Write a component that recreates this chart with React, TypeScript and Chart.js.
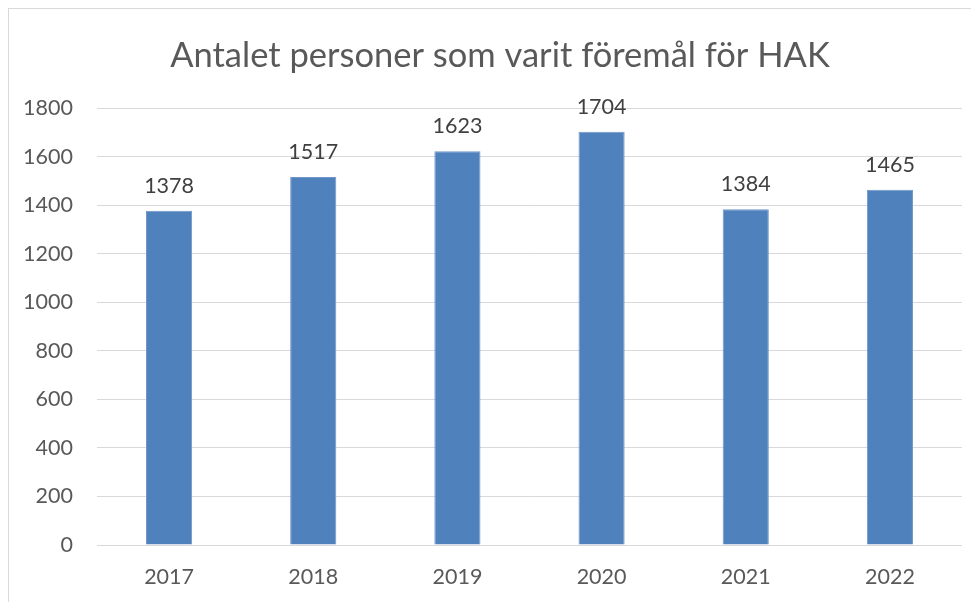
import React, { useEffect, useRef } from "react";
import { Chart, registerables } from "chart.js";

Chart.register(...registerables);

const TITLE = "Antalet personer som varit föremål för HAK";
const years = ["2017", "2018", "2019", "2020", "2021", "2022"];
const persons = [1378, 1517, 1623, 1704, 1384, 1465];

const FONT = "Lato, 'Noto Sans', sans-serif";
const TICK_SIZE = 21.5;

const valueLabels = {
  id: "valueLabels",
  afterDatasetsDraw(chart: any) {
    const ctx = chart.ctx;
    const meta = chart.getDatasetMeta(0);
    const data = chart.data.datasets[0].data as number[];
    ctx.save();
    ctx.font = `${TICK_SIZE}px ${FONT}`;
    ctx.fillStyle = "#404040";
    ctx.textAlign = "center";
    ctx.textBaseline = "middle";
    meta.data.forEach((bar: any, i: number) => {
      ctx.fillText(String(data[i]), bar.x, bar.y - 25);
    });
    ctx.restore();
  },
};

// The original chart is wider than the visible crop; its title is centred on that wider box.
const titleShift = {
  id: "titleShift",
  afterLayout(chart: any) {
    if (chart.titleBlock) {
      chart.titleBlock.right += 29;
    }
  },
};

export default function App() {
  const ref = useRef<HTMLCanvasElement>(null);
  useEffect(() => {
    if (!ref.current) return;
    const chart = new Chart(ref.current, {
      type: "bar",
      data: {
        labels: years,
        datasets: [
          {
            data: persons,
            backgroundColor: "#4F81BD",
            borderColor: "#6E96C8",
            borderWidth: 1,
            categoryPercentage: 1,
            barPercentage: 0.32,
          },
        ],
      },
      options: {
        responsive: false,
        animation: false,
        devicePixelRatio: 1,
        layout: { padding: { left: 0, right: 17, top: 0, bottom: 0 } },
        plugins: {
          legend: { display: false },
          tooltip: { enabled: false },
          title: {
            display: true,
            text: TITLE,
            color: "#595959",
            font: { family: FONT, size: 34.5, weight: "normal", lineHeight: 1.2 },
            padding: { top: 26, bottom: 32 },
          },
        },
        scales: {
          x: {
            grid: { display: false, drawTicks: false },
            border: { display: false },
            ticks: {
              color: "#595959",
              font: { family: FONT, size: TICK_SIZE, lineHeight: 1.2 },
              padding: 19,
              maxRotation: 0,
            },
            afterFit(scale: any) {
              scale.height = 57;
            },
          },
          y: {
            min: 0,
            max: 1800,
            ticks: {
              stepSize: 200,
              color: "#595959",
              font: { family: FONT, size: TICK_SIZE, lineHeight: 1.2 },
              padding: 24,
              callback: (v: any) => String(v),
            },
            grid: { color: "#D9D9D9", lineWidth: 1, drawTicks: false },
            border: { display: false },
            afterFit(scale: any) {
              scale.width = 88;
            },
          },
        },
      },
      plugins: [valueLabels, titleShift],
    });
    return () => chart.destroy();
  }, []);
  return (
    <div
      style={{
        border: "1px solid #D9D9D9",
        width: 980,
        height: 600,
        boxSizing: "border-box",
        background: "#fff",
      }}
    >
      <canvas ref={ref} width={970} height={593} style={{ display: "block" }} />
    </div>
  );
}
